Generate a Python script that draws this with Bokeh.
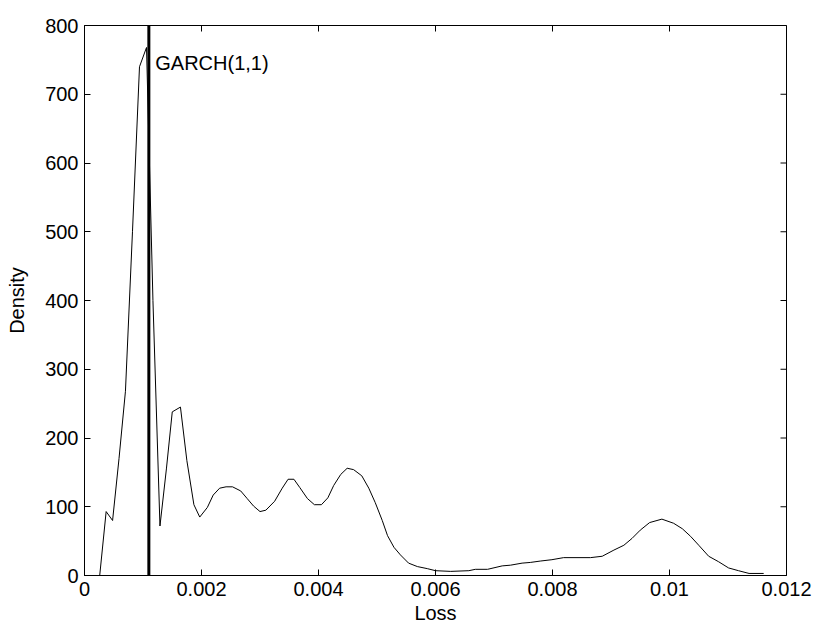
import math
from bokeh.plotting import figure
from bokeh.models import Range1d, FixedTicker
from bokeh.core.properties import value
from bokeh.embed import file_html
from bokeh.resources import INLINE

# Density estimate of loss
loss = [0.00026, 0.00037, 0.00048, 0.00059, 0.0007, 0.00082, 0.00094, 0.00106, 0.00117,
        0.00129, 0.0014, 0.0015, 0.00164, 0.00175, 0.00187, 0.00197, 0.0021, 0.0022,
        0.00231, 0.00242, 0.00253, 0.00267, 0.00278, 0.00289, 0.003, 0.0031, 0.00325,
        0.00338, 0.00348, 0.00358, 0.00368, 0.00381, 0.00393, 0.00405, 0.00416, 0.00426,
        0.00438, 0.00449, 0.0046, 0.00474, 0.00486, 0.00497, 0.00509, 0.00518, 0.00529,
        0.0054, 0.00554, 0.00569, 0.00586, 0.006, 0.00626, 0.00657, 0.00668, 0.00689,
        0.00714, 0.00728, 0.00748, 0.00762, 0.00779, 0.00799, 0.00819, 0.00865, 0.00885,
        0.00905, 0.00922, 0.00936, 0.0095, 0.00966, 0.00987, 0.01007, 0.01022, 0.01036,
        0.0105, 0.01067, 0.01084, 0.01101, 0.01118, 0.01136, 0.01161]
density = [0, 93, 80, 170, 268, 500, 740, 768, 400,
           72, 155, 238, 245, 167, 103, 85, 99, 117,
           127, 129, 129, 123, 112, 101, 93, 95, 108,
           127, 140, 140, 128, 112, 103, 103, 113, 131,
           147, 156, 154, 145, 127, 106, 80, 58, 41,
           30, 18, 13, 10, 7, 6, 7, 9, 9,
           14, 15, 18, 19, 21, 23, 26, 26, 28,
           37, 44, 54, 66, 77, 82, 76, 68, 57,
           44, 28, 20, 11, 7, 3, 3]

garch_var = 0.0011
garch_label = "GARCH(1,1)"

x_ticks = [0, 0.002, 0.004, 0.006, 0.008, 0.01, 0.012]
x_tick_labels = ["0", "0.002", "0.004", "0.006", "0.008", "0.01", "0.012"]
y_ticks = [0, 100, 200, 300, 400, 500, 600, 700, 800]

FONT = "Liberation Sans"

p = figure(width=815, height=630, output_backend="svg", toolbar_location=None,
           x_range=Range1d(x_ticks[0], x_ticks[-1]), y_range=Range1d(y_ticks[0], y_ticks[-1]),
           min_border_left=84, min_border_right=29, min_border_top=25, min_border_bottom=55)
p.grid.visible = False
p.outline_line_color = "black"
p.outline_line_width = 1
p.background_fill_color = "white"
p.border_fill_color = "white"

p.line(loss, density, line_color="black", line_width=1)
p.segment(x0=[garch_var], y0=[y_ticks[0]], x1=[garch_var], y1=[y_ticks[-1]],
          line_color="black", line_width=3)
p.text(x=[garch_var + 0.00011], y=[745], text=[garch_label],
       text_font=value(FONT), text_font_size="20px", text_color="black",
       text_baseline="alphabetic", text_align="left")

# inward ticks on the top and right edges of the box
p.scatter(x=x_ticks, y=[y_ticks[-1]] * len(x_ticks), marker="dash", size=12,
          angle=math.pi / 2, line_color="black", line_width=1)
p.scatter(x=[x_ticks[-1]] * len(y_ticks), y=y_ticks, marker="dash", size=12,
          angle=0, line_color="black", line_width=1)

p.xaxis.ticker = FixedTicker(ticks=x_ticks)
p.xaxis.major_label_overrides = {t: l for t, l in zip(x_ticks, x_tick_labels)}
p.yaxis.ticker = FixedTicker(ticks=y_ticks)
p.xaxis.axis_label = "Loss"
p.yaxis.axis_label = "Density"

for ax in [p.xaxis[0], p.yaxis[0]]:
    ax.major_tick_in = 6
    ax.major_tick_out = 0
    ax.minor_tick_line_color = None
    ax.axis_line_color = "black"
    ax.major_tick_line_color = "black"
    ax.major_label_text_font = FONT
    ax.major_label_text_font_size = "20px"
    ax.major_label_text_color = "black"
    ax.axis_label_text_font = FONT
    ax.axis_label_text_font_size = "20px"
    ax.axis_label_text_font_style = "normal"
    ax.axis_label_text_color = "black"
p.xaxis.major_label_standoff = 6
p.xaxis.axis_label_standoff = 3
p.yaxis.major_label_standoff = 6
p.yaxis.axis_label_standoff = 14

open("out.html", "w").write(file_html(p, INLINE))
